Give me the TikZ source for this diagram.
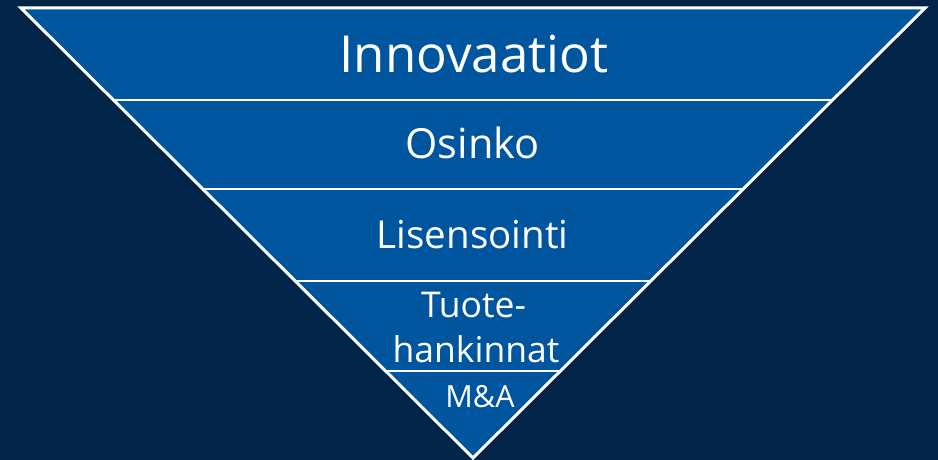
\documentclass[tikz,border=0pt]{standalone}
\usepackage{fontspec}
\setmainfont{Open Sans}
\usetikzlibrary{calc}
\definecolor{bgnavy}{HTML}{022449}
\definecolor{pyrblue}{HTML}{00559F}
\begin{document}
\begin{tikzpicture}[x=1pt,y=-1pt,
  lbl/.style={text=white, inner sep=0pt, anchor=base},
  sepline/.style={draw=white, line width=2.6pt},
  outline/.style={fill=pyrblue, draw=white, line width=3pt, line join=miter}]
\fill[bgnavy] (0,0) rectangle (938,460);
\useasboundingbox (0,0) rectangle (938,460);
\coordinate (TL) at (21,8);
\coordinate (TR) at (925,8);
\coordinate (AP) at (473,458);
\path[outline] (TL) -- (TR) -- (AP) -- cycle;
\foreach \t/\n in {0.2044/a,0.4022/b,0.6067/c,0.8067/d}{
  \coordinate (L\n) at ($(TL)!\t!(AP)$);
  \coordinate (R\n) at ($(TR)!\t!(AP)$);
  \draw[sepline] (L\n) -- (R\n);
}
\node[lbl, font=\fontsize{51}{58}\selectfont] (inn) at (474,72.5) {Innovaatiot};
\node[lbl, font=\fontsize{41.5}{48}\selectfont] (osi) at (472.5,158) {Osinko};
\node[lbl, font=\fontsize{38.5}{44}\selectfont] (lis) at (472.5,248) {Lisensointi};
\node[lbl, font=\fontsize{35.5}{42}\selectfont] (tuo) at (473.5,317) {Tuote-};
\node[lbl, font=\fontsize{35.5}{42}\selectfont] (han) at (476,362) {hankinnat};
\node[lbl, font=\fontsize{30.5}{34}\selectfont] (ma) at (480,407) {M\&A};
\end{tikzpicture}
\end{document}
